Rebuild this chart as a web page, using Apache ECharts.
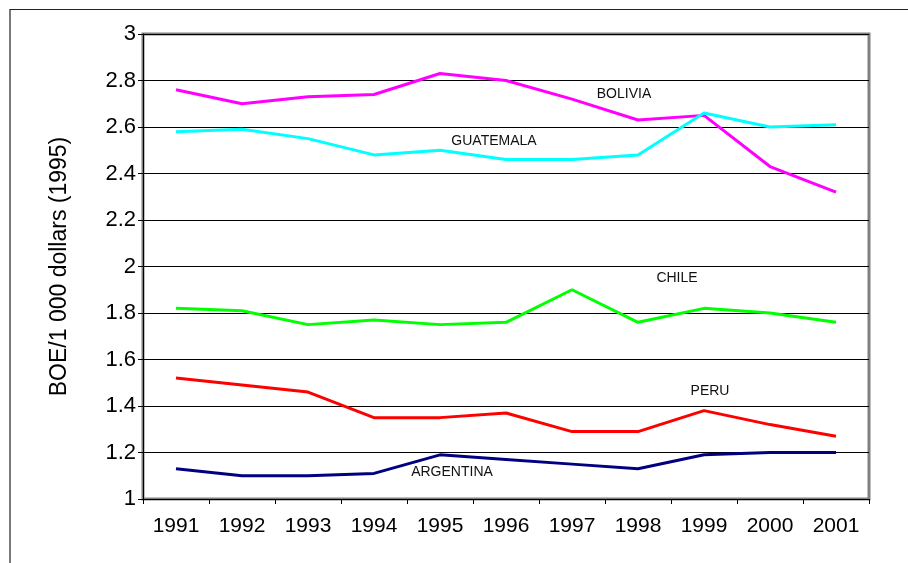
<!DOCTYPE html>
<html>
<head>
<meta charset="utf-8">
<script src="https://cdn.jsdelivr.net/npm/echarts@6/dist/echarts.min.js"></script>
<style>
  html, body { margin: 0; padding: 0; background: #fff; }
  #chart { width: 908px; height: 563px; }
</style>
</head>
<body>
<div id="chart"></div>
<script>
var years = ['1991', '1992', '1993', '1994', '1995', '1996', '1997', '1998', '1999', '2000', '2001'];
var bolivia   = [2.76, 2.70, 2.73, 2.74, 2.83, 2.80, 2.72, 2.63, 2.65, 2.43, 2.32];
var guatemala = [2.58, 2.59, 2.55, 2.48, 2.50, 2.46, 2.46, 2.48, 2.66, 2.60, 2.61];
var chile     = [1.82, 1.81, 1.75, 1.77, 1.75, 1.76, 1.90, 1.76, 1.82, 1.80, 1.76];
var peru      = [1.52, 1.49, 1.46, 1.35, 1.35, 1.37, 1.29, 1.29, 1.38, 1.32, 1.27];
var argentina = [1.13, 1.10, 1.10, 1.11, 1.19, 1.17, 1.15, 1.13, 1.19, 1.20, 1.20];

var font = 'Liberation Sans, Arial, sans-serif';

function line(name, data, color) {
  return {
    name: name,
    type: 'line',
    data: data,
    symbol: 'none',
    lineStyle: { color: color, width: 3 },
    itemStyle: { color: color }
  };
}

function note(text, x, y) {
  return {
    type: 'text',
    x: x, y: y,
    style: {
      text: text,
      font: '14px ' + font,
      fill: '#111',
      align: 'center',
      verticalAlign: 'middle'
    }
  };
}

var chart = echarts.init(document.getElementById('chart'));
chart.setOption({
  animation: false,
  backgroundColor: '#fff',
  grid: {
    left: 143, top: 34, right: 39, bottom: 64,
    show: true,
    borderColor: '#808080',
    borderWidth: 3
  },
  xAxis: {
    type: 'category',
    data: years,
    boundaryGap: true,
    axisLine: { lineStyle: { color: '#000', width: 1 } },
    axisTick: { show: true, length: 5, lineStyle: { color: '#000' } },
    axisLabel: { color: '#000', fontSize: 21, fontFamily: font, margin: 17 }
  },
  yAxis: {
    type: 'value',
    min: 1, max: 3, interval: 0.2,
    name: 'BOE/1 000 dollars (1995)',
    nameLocation: 'middle',
    nameGap: 72,
    nameTextStyle: { color: '#000', fontSize: 23, fontFamily: font },
    axisLine: { show: true, lineStyle: { color: '#000', width: 1 } },
    axisTick: { show: true, length: 5, lineStyle: { color: '#000' } },
    axisLabel: {
      color: '#000', fontSize: 22, fontFamily: font, margin: 7,
      formatter: function (v) { return String(Math.round(v * 10) / 10); }
    },
    splitLine: { lineStyle: { color: '#000', width: 1 } }
  },
  series: [
    line('BOLIVIA', bolivia, '#ff00ff'),
    line('GUATEMALA', guatemala, '#00ffff'),
    line('CHILE', chile, '#00ff00'),
    line('PERU', peru, '#ff0000'),
    line('ARGENTINA', argentina, '#000080')
  ],
  graphic: [
    {
      type: 'polyline',
      shape: { points: [[10, 563], [10, 9.5], [908, 9.5]] },
      style: { stroke: '#222', lineWidth: 1.2, fill: null }
    },
    note('BOLIVIA', 624, 94),
    note('GUATEMALA', 494, 141),
    note('CHILE', 677, 278),
    note('PERU', 710, 391),
    note('ARGENTINA', 452, 472)
  ]
});
</script>
</body>
</html>
